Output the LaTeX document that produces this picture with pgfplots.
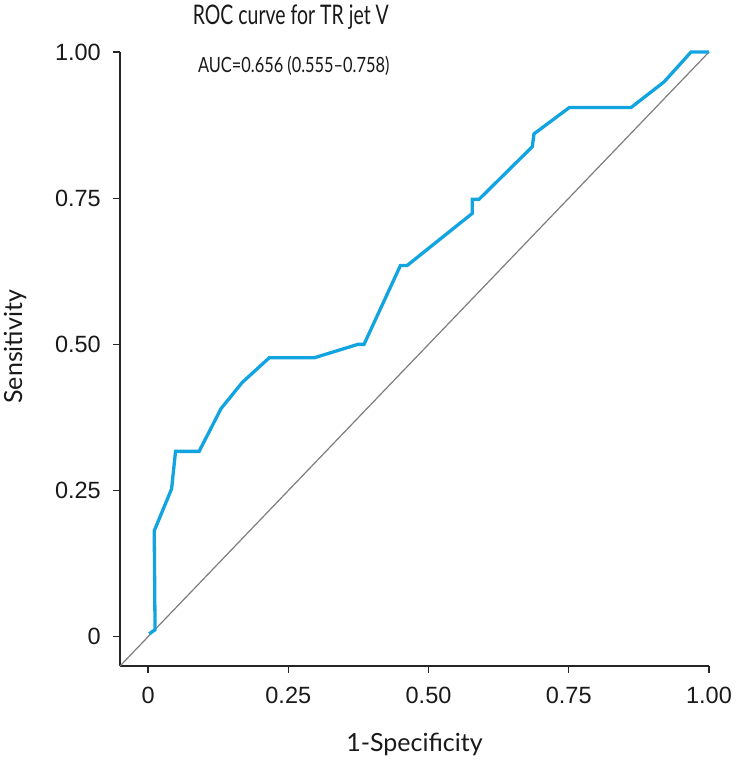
\documentclass[border=0pt]{standalone}
\usepackage{fontspec}
\setmainfont{Lato}
\newfontfamily\tickfont{Liberation Sans}
\usepackage{graphicx}
\usepackage{pgfplots}
\pgfplotsset{compat=1.18}
\definecolor{roc}{RGB}{18,164,224}
\definecolor{diag}{RGB}{125,125,125}
\begin{document}
\begin{tikzpicture}
\path[use as bounding box] (0,0) rectangle (736bp,760bp);
\begin{axis}[
  at={(120bp,94bp)}, anchor=south west,
  scale only axis, width=589bp, height=614bp,
  xmin=-0.05, xmax=1, ymin=-0.05, ymax=1,
  axis x line=bottom, axis y line=left,
  axis line style={-, line width=1.3bp, black!85},
  tick align=outside, major tick length=7bp,
  tick style={line width=1.3bp, black!85},
  xtick={0,0.25,0.5,0.75,1}, ytick={0,0.25,0.5,0.75,1},
  xticklabels={0,0.25,0.50,0.75,1.00},
  yticklabels={0,0.25,0.50,0.75,1.00},
  /pgf/number format/assume math mode=true,
  tick label style={font=\tickfont\fontsize{23.5bp}{26bp}\selectfont, text=black!90, inner sep=0pt},
  xticklabel style={yshift=-14bp},
  yticklabel style={xshift=-12bp},
  xlabel={1-Specificity},
  ylabel={Sensitivity},
  label style={font=\fontsize{25bp}{28bp}\selectfont, text=black!90},
  xlabel style={at={(axis description cs:0.5,-0.127)}, anchor=center},
  ylabel style={at={(axis description cs:-0.178,0.52)}, anchor=center, rotate=0},
  clip=false,
]
\addplot[diag, line width=1.2bp] coordinates {(-0.05,-0.05) (1,1)};
\addplot[roc, line width=3.3bp, line join=miter] coordinates {
(0.002,0.005)
(0.0125,0.012)
(0.011,0.181)
(0.042,0.253)
(0.049,0.317)
(0.091,0.317)
(0.130,0.390)
(0.168,0.435)
(0.216,0.477)
(0.296,0.477)
(0.374,0.500)
(0.385,0.500)
(0.450,0.635)
(0.462,0.635)
(0.578,0.724)
(0.578,0.748)
(0.590,0.748)
(0.685,0.838)
(0.688,0.860)
(0.751,0.905)
(0.861,0.905)
(0.920,0.949)
(0.968,1.0)
(1.0,1.0)
};
\node[font=\fontsize{27bp}{30bp}\selectfont, text=black!90] at (axis description cs:0.29,1.057) {\scalebox{0.72}[1]{ROC curve for TR jet V}};
\node[font=\fontsize{21bp}{24bp}\selectfont, text=black!90] at (axis description cs:0.295,0.977) {\scalebox{0.78}[1]{AUC=0.656 (0.555--0.758)}};
\end{axis}
\end{tikzpicture}
\end{document}
